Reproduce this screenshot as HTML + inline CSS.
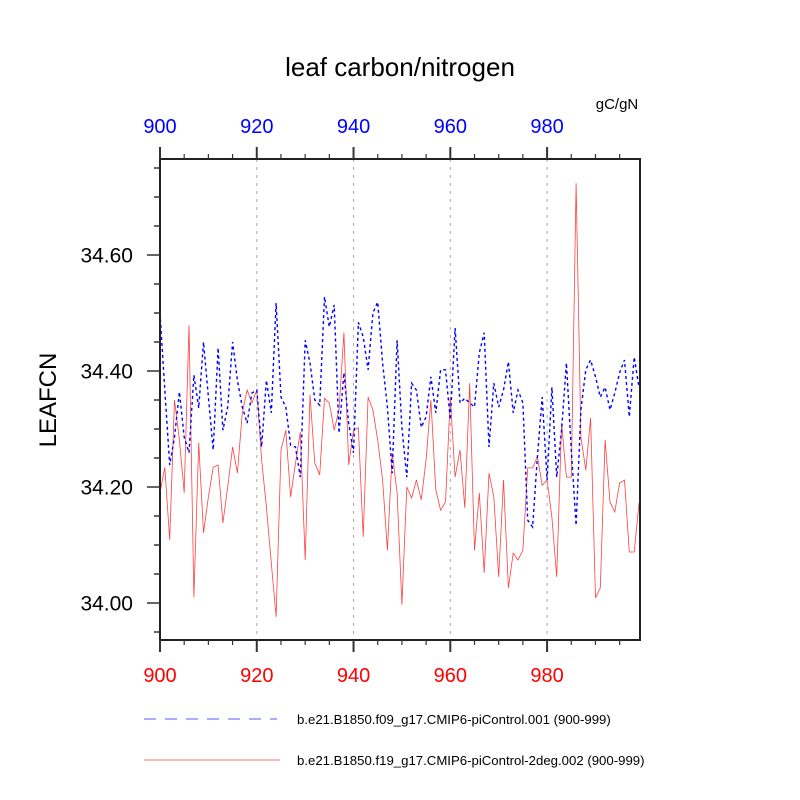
<!DOCTYPE html>
<html><head><meta charset="utf-8"><style>
html,body{margin:0;padding:0;background:#fff;}
svg{display:block;font-family:"Liberation Sans",Arial,sans-serif;}
</style></head><body>
<svg id="chart" width="800" height="800" viewBox="0 0 800 800" xmlns="http://www.w3.org/2000/svg">
<text x="400" y="76" font-size="26" text-anchor="middle">leaf carbon/nitrogen</text>
<text x="617" y="109" font-size="15" text-anchor="middle">gC/gN</text>
<text transform="translate(56,400) rotate(-90)" font-size="24" text-anchor="middle">LEAFCN</text>
<g id="grid"></g><g id="series"></g><g id="axes"></g>
<g>
<line x1="144" y1="719" x2="277" y2="719" stroke="#5a5aff" stroke-width="1" stroke-dasharray="12,9"/>
<text x="297" y="724" font-size="13.2">b.e21.B1850.f09_g17.CMIP6-piControl.001 (900-999)</text>
<line x1="144" y1="760" x2="280" y2="760" stroke="#f07070" stroke-width="1"/>
<text x="297" y="765" font-size="13.2">b.e21.B1850.f19_g17.CMIP6-piControl-2deg.002 (900-999)</text>
</g>
</svg>
<script>
const years = Array.from({length:100},(_,i)=>900+i);
const blueValues=[34.500,34.367,34.238,34.286,34.364,34.286,34.259,34.393,34.336,34.450,34.355,34.264,34.440,34.298,34.338,34.450,34.384,34.338,34.310,34.362,34.367,34.269,34.384,34.328,34.517,34.355,34.338,34.272,34.269,34.217,34.453,34.414,34.350,34.341,34.528,34.476,34.514,34.293,34.397,34.310,34.259,34.484,34.459,34.402,34.500,34.519,34.414,34.338,34.224,34.453,34.303,34.217,34.379,34.367,34.303,34.321,34.390,34.328,34.402,34.402,34.316,34.474,34.345,34.353,34.345,34.338,34.431,34.466,34.269,34.379,34.338,34.367,34.416,34.328,34.367,34.345,34.143,34.131,34.252,34.355,34.212,34.372,34.217,34.298,34.414,34.264,34.134,34.333,34.402,34.419,34.390,34.355,34.372,34.333,34.362,34.397,34.419,34.321,34.424,34.372];
const redValues=[34.190,34.234,34.109,34.350,34.281,34.190,34.479,34.010,34.276,34.121,34.183,34.234,34.238,34.138,34.200,34.269,34.224,34.328,34.367,34.345,34.367,34.247,34.166,34.069,33.976,34.264,34.298,34.183,34.241,34.295,34.074,34.359,34.241,34.221,34.353,34.345,34.298,34.333,34.466,34.238,34.298,34.302,34.114,34.355,34.333,34.281,34.212,34.091,34.259,34.190,33.997,34.200,34.181,34.212,34.178,34.247,34.350,34.195,34.160,34.174,34.355,34.217,34.264,34.164,34.379,34.091,34.190,34.052,34.224,34.183,34.045,34.212,34.026,34.086,34.074,34.091,34.233,34.233,34.252,34.203,34.212,34.148,34.045,34.310,34.217,34.217,34.724,34.286,34.229,34.319,34.009,34.026,34.281,34.174,34.157,34.207,34.212,34.088,34.088,34.172];
const xTicks=[900,920,940,960,980];
const yTicks=[34.00,34.20,34.40,34.60];
const NS="http://www.w3.org/2000/svg";
const L=160,R=639,T=159,B=640;
const xS=y=>L+(y-900)*(R-L)/99;
const yS=v=>255+(34.60-v)*580;
function mk(tag,attrs,parent){const e=document.createElementNS(NS,tag);for(const k in attrs)e.setAttribute(k,attrs[k]);parent.appendChild(e);return e;}
const grid=document.getElementById('grid'),series=document.getElementById('series'),axes=document.getElementById('axes');
xTicks.slice(1).forEach(t=>{const l=mk('line',{x1:xS(t),x2:xS(t),y1:T,y2:B,stroke:'#aaa','stroke-width':1,'stroke-dasharray':'3,5'},grid);

});
function path(vals,color,w,dash,name){let d=vals.map((v,i)=>(i?'L':'M')+xS(years[i]).toFixed(1)+' '+yS(v).toFixed(1)).join(' ');
const p=mk('path',{d:d,fill:'none',stroke:color,'stroke-width':w},series);if(dash)p.setAttribute('stroke-dasharray',dash);

}
path(redValues,'#ff4040',0.8,null,'series-red-2deg');
path(blueValues,'#0000ff',1.4,'3,3','series-blue-f09');
const fr=mk('rect',{x:L,y:T,width:R-L+1,height:B-T,fill:'none',stroke:'#222','stroke-width':2},axes);


for(let y=900;y<=1000;y+=5){const x=xS(y);if(x>R+1)break;const maj=(y%20===0);
mk('line',{x1:x,x2:x,y1:T,y2:T-(maj?12:5),stroke:'#333','stroke-width':maj?2:1.2},axes);
mk('line',{x1:x,x2:x,y1:B,y2:B+(maj?12:5),stroke:'#333','stroke-width':maj?2:1.2},axes);}
for(let v=33.95;v<=34.76;v+=0.05){const y=yS(v);if(y<T||y>B)continue;const maj=Math.abs(Math.round(v*10)/10-v)<1e-6&&Math.round(v*10)%2===0;
mk('line',{x1:L,x2:L-(maj?13:6),y1:y,y2:y,stroke:'#333','stroke-width':1.5},axes);}
xTicks.forEach(t=>{const a=mk('text',{x:xS(t),y:133,'font-size':20,fill:'#0000ff','text-anchor':'middle'},axes);a.textContent=t;


const b=mk('text',{x:xS(t),y:682,'font-size':20,fill:'#ff0000','text-anchor':'middle'},axes);b.textContent=t;

});
yTicks.forEach(t=>{const a=mk('text',{x:133,y:yS(t)+7.5,'font-size':21,'text-anchor':'end'},axes);a.textContent=t.toFixed(2);

});
</script>
</body></html>
